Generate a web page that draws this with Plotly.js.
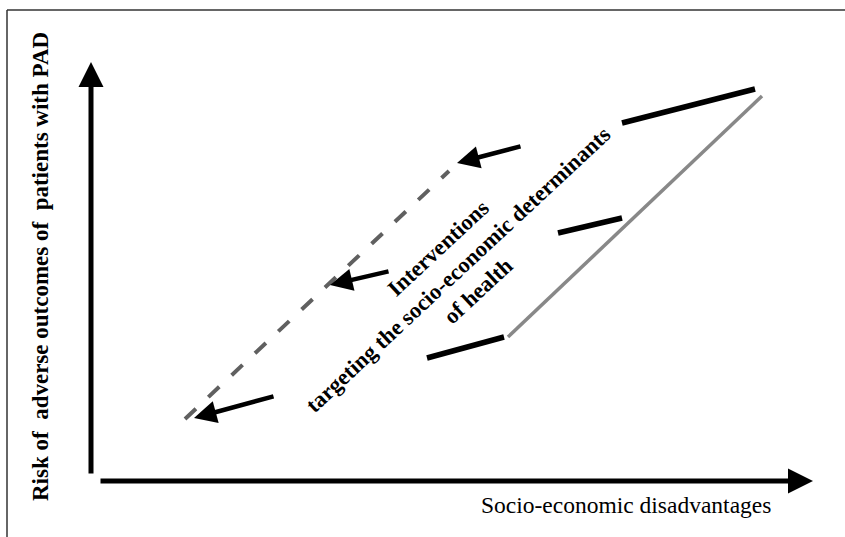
<!DOCTYPE html>
<html>
<head>
<meta charset="utf-8">
<script src="https://cdn.plot.ly/plotly-3.0.1.min.js"></script>
<style>html,body{margin:0;padding:0;background:#fff;}#chart{width:845px;height:537px;}</style>
</head>
<body>
<div id="chart"></div>
<script>
// Coordinates in a diagram space: x = disadvantage (0..845), y = risk (0..537, up)
const H = 537;
// Baseline risk gradient (solid gray) and improved gradient (dashed gray)
const baselineX = [508, 762];
const baselineY = [H - 337, H - 96];
const improvedX = [185, 449];
const improvedY = [H - 419, H - 171];
// Black connector segments starting from the gray line (before text gap)
const segStartX = [755, 622, 504];
const segStartY = [H - 89, H - 218, H - 337];
const segEndX = [622, 558, 427];
const segEndY = [H - 123, H - 233, H - 358];
// Arrow parts after the text gap (tail -> tip)
const arrTailX = [522, 390, 275];
const arrTailY = [H - 146, H - 271, H - 396];
const arrTipX = [457, 330, 194];
const arrTipY = [H - 163, H - 285, H - 418];
// Axis arrows
const yAxisArrow = {x: [91, 91], y: [H - 475, H - 62]};
const xAxisArrow = {x: [99, 813], y: [H - 481, H - 481]};
// Labels
const yLabel = "Risk of  adverse outcomes of  patients with PAD";
const xLabel = "Socio-economic disadvantages";
const centerText = ["Interventions", "targeting the socio-economic determinants", "of health"];

const traces = [];
traces.push({x: baselineX, y: baselineY, mode: 'lines', line: {color: '#888888', width: 3.5}, hoverinfo: 'skip'});
traces.push({x: improvedX, y: improvedY, mode: 'lines', line: {color: '#606060', width: 4, dash: '15px,17px'}, hoverinfo: 'skip'});
for (let i = 0; i < segStartX.length; i++) {
  traces.push({x: [segStartX[i], segEndX[i]], y: [segStartY[i], segEndY[i]], mode: 'lines', line: {color: '#000', width: 5.5}, hoverinfo: 'skip'});
}

const annotations = [];
for (let i = 0; i < arrTipX.length; i++) {
  annotations.push({x: arrTipX[i], y: arrTipY[i], ax: arrTailX[i], ay: arrTailY[i], xref: 'x', yref: 'y', axref: 'x', ayref: 'y',
    text: '', showarrow: true, arrowhead: 2, arrowsize: 1, arrowwidth: 4.5, arrowcolor: '#000', standoff: 0});
}
annotations.push({x: yAxisArrow.x[1], y: yAxisArrow.y[1], ax: yAxisArrow.x[0], ay: yAxisArrow.y[0], xref: 'x', yref: 'y', axref: 'x', ayref: 'y',
  text: '', showarrow: true, arrowhead: 2, arrowsize: 1, arrowwidth: 5, arrowcolor: '#000', standoff: 0});
annotations.push({x: xAxisArrow.x[1], y: xAxisArrow.y[1], ax: xAxisArrow.x[0], ay: xAxisArrow.y[0], xref: 'x', yref: 'y', axref: 'x', ayref: 'y',
  text: '', showarrow: true, arrowhead: 2, arrowsize: 1, arrowwidth: 5, arrowcolor: '#000', standoff: 0});
annotations.push({x: 40, y: H - 267, xref: 'x', yref: 'y', text: '<b>' + yLabel + '</b>', textangle: -90, showarrow: false,
  font: {family: 'Liberation Serif, serif', size: 23, color: '#000'}});
annotations.push({x: 626, y: H - 505, xref: 'x', yref: 'y', text: xLabel, showarrow: false,
  font: {family: 'Liberation Serif, serif', size: 23.5, color: '#000'}});
annotations.push({x: 458, y: H - 270, xref: 'x', yref: 'y', text: '<b>' + centerText.join('<br>') + '</b>', textangle: -43, showarrow: false,
  align: 'center', font: {family: 'Liberation Serif, serif', size: 22.5, color: '#000'}});

const layout = {
  width: 845, height: 537,
  margin: {l: 0, r: 0, t: 0, b: 0},
  paper_bgcolor: '#fff', plot_bgcolor: '#fff',
  showlegend: false,
  xaxis: {range: [0, 845], visible: false, fixedrange: true},
  yaxis: {range: [0, 537], visible: false, fixedrange: true},
  shapes: [
    {type: 'line', xref: 'x', yref: 'y', x0: 7, y0: 0, x1: 7, y1: H - 10, line: {color: '#333', width: 1.5}},
    {type: 'line', xref: 'x', yref: 'y', x0: 7, y0: H - 10, x1: 845, y1: H - 10, line: {color: '#333', width: 1.5}}
  ],
  annotations: annotations
};
Plotly.newPlot('chart', traces, layout, {displayModeBar: false, staticPlot: true});
</script>
</body>
</html>
